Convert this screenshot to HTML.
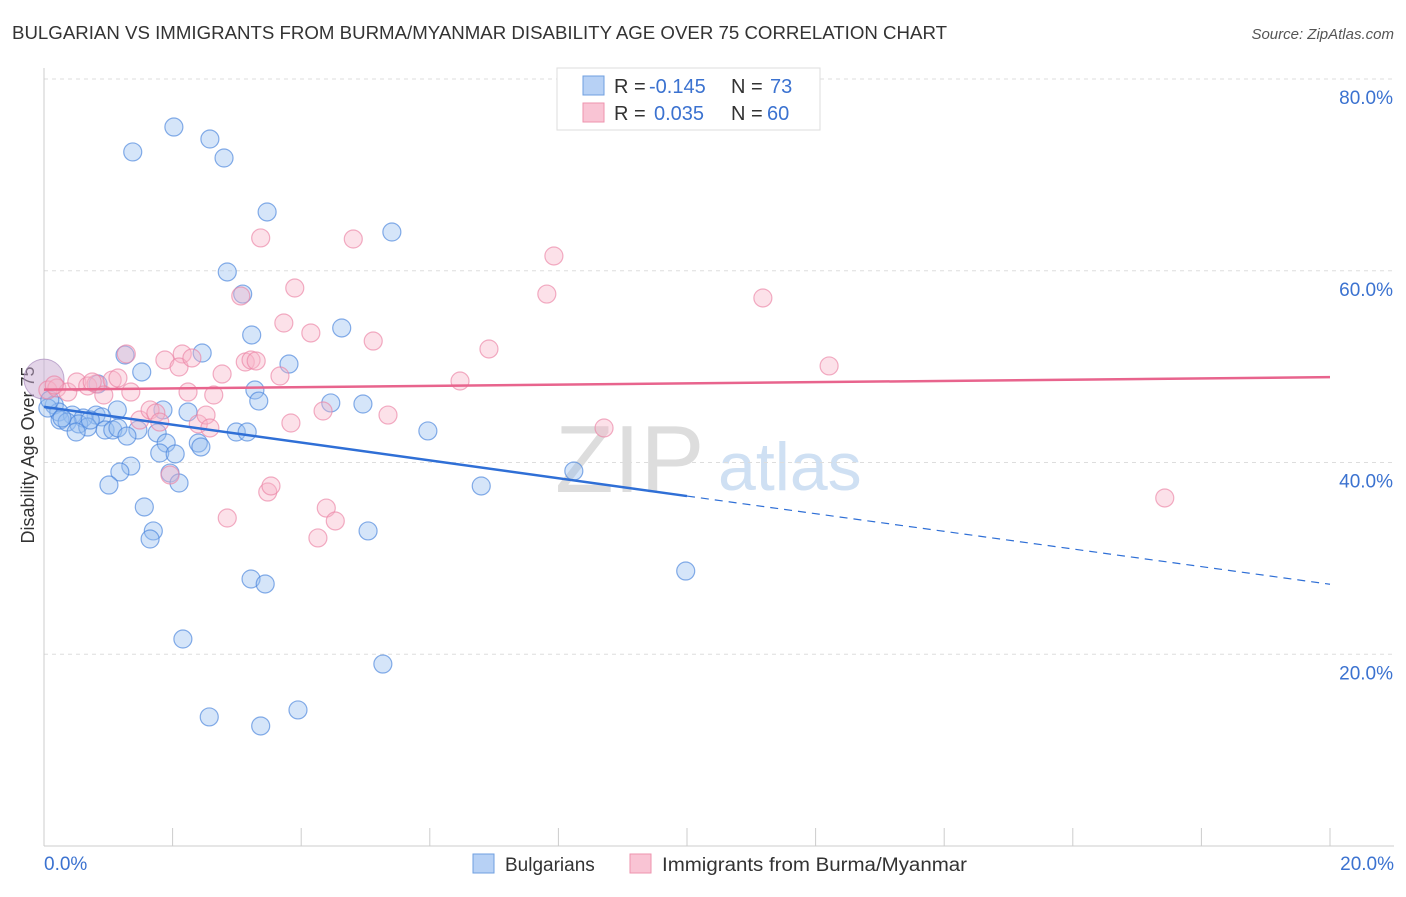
<!DOCTYPE html>
<html><head><meta charset="utf-8"><style>
body{margin:0;background:#fff;font-family:"Liberation Sans",sans-serif}
svg text{font-family:"Liberation Sans",sans-serif}
</style></head><body>
<svg id="chart" width="1406" height="892" xmlns="http://www.w3.org/2000/svg">
<text x="12" y="39" font-size="18" fill="#333" textLength="935" lengthAdjust="spacingAndGlyphs">BULGARIAN VS IMMIGRANTS FROM BURMA/MYANMAR DISABILITY AGE OVER 75 CORRELATION CHART</text>
<text x="1394" y="39" font-size="15" fill="#555" font-style="italic" text-anchor="end">Source: ZipAtlas.com</text>
<text x="34" y="455" font-size="18" fill="#333" text-anchor="middle" transform="rotate(-90 34 455)">Disability Age Over 75</text>
<text x="555" y="492" font-size="96" fill="#ddd" font-family="Liberation Serif">ZIP</text>
<text x="718" y="490" font-size="68" fill="#cfe0f3">atlas</text>
<g id="grid"></g><g id="ticks"></g><g id="pts"></g><g id="lines"></g>
<g>
<rect x="557" y="68" width="263" height="62" fill="#fff" stroke="#ddd"/>
<rect x="583" y="76" width="21" height="19" fill="#b7d1f5" stroke="#6f9fe0"/>
<rect x="583" y="103" width="21" height="19" fill="#f9c4d4" stroke="#ee93ae"/>
<text x="614" y="93" font-size="20" fill="#333">R =</text>
<text x="649" y="93" font-size="20" fill="#3b72d0">-0.145</text>
<text x="731" y="93" font-size="20" fill="#333">N =</text>
<text x="770" y="93" font-size="20" fill="#3b72d0">73</text>
<text x="614" y="120" font-size="20" fill="#333">R =</text>
<text x="654" y="120" font-size="20" fill="#3b72d0">0.035</text>
<text x="731" y="120" font-size="20" fill="#333">N =</text>
<text x="767" y="120" font-size="20" fill="#3b72d0">60</text>
</g>
<g>
<rect x="473" y="854" width="21" height="19" fill="#b7d1f5" stroke="#6f9fe0"/>
<text x="505" y="871" font-size="19" fill="#333">Bulgarians</text>
<rect x="630" y="854" width="21" height="19" fill="#f9c4d4" stroke="#ee93ae"/>
<text x="662" y="871" font-size="19" fill="#333" textLength="305" lengthAdjust="spacingAndGlyphs">Immigrants from Burma/Myanmar</text>
</g>
<text x="44" y="870" font-size="19" fill="#3b72d0">0.0%</text>
<text x="1394" y="870" font-size="19" fill="#3b72d0" text-anchor="end">20.0%</text>
</svg>
<script>
const yTicks=[20,40,60,80];
const yTickLabels=["20.0%","40.0%","60.0%","80.0%"];
const bluePx=[[174,127],[210,139],[133,152],[224,158],[267,212],[392,232],[227,272],[243,294],[342,328],[252,335],[202,353],[125,355],[289,364],[142,372],[98,384],[255,390],[259,401],[331,403],[363,404],[54,405],[59,412],[117,410],[163,410],[188,412],[72,415],[96,415],[102,417],[83,418],[60,420],[67,422],[79,424],[88,427],[76,432],[105,430],[113,430],[118,428],[138,430],[127,436],[157,433],[236,432],[247,432],[428,431],[166,443],[198,443],[201,447],[160,453],[175,454],[131,466],[120,472],[170,473],[574,471],[179,483],[109,485],[481,486],[144,507],[153,531],[150,539],[368,531],[686,571],[251,579],[265,584],[183,639],[383,664],[298,710],[209,717],[261,726],[48,408],[50,400],[62,418],[90,420]];
const pinkPx=[[48,390],[57,388],[68,392],[77,382],[88,386],[96,384],[112,380],[104,395],[118,378],[126,354],[131,392],[140,420],[150,410],[156,413],[160,422],[165,360],[170,475],[182,354],[179,367],[188,392],[192,358],[198,424],[206,415],[210,428],[214,395],[222,374],[227,518],[241,296],[245,362],[251,360],[256,361],[261,238],[268,492],[271,486],[280,376],[284,323],[291,423],[295,288],[311,333],[318,538],[323,411],[326,508],[335,521],[353,239],[373,341],[388,415],[460,381],[489,349],[547,294],[554,256],[604,428],[763,298],[829,366],[1165,498],[92,382],[54,385]];
const blueX=bluePx.map(p=>+((p[0]-44)/64.3).toFixed(2));
const blueY=bluePx.map(p=>+((846-p[1])/9.5875).toFixed(2));
const pinkX=pinkPx.map(p=>+((p[0]-44)/64.3).toFixed(2));
const pinkY=pinkPx.map(p=>+((846-p[1])/9.5875).toFixed(2));
const blueTrend=[[0,45.8],[10,36.5],[20,27.3]];
const pinkTrend=[[0,47.6],[20,48.9]];
const X=v=>44+v*64.3, Y=v=>846-v*9.5875;
const NS="http://www.w3.org/2000/svg";
function mk(tag,attrs,parent){const e=document.createElementNS(NS,tag);for(const k in attrs)e.setAttribute(k,attrs[k]);document.getElementById(parent).appendChild(e);return e;}
yTicks.forEach((t,i)=>{
 const l=mk('line',{x1:44,x2:1394,y1:Y(t),y2:Y(t),stroke:'#ddd','stroke-dasharray':'4,4'},'grid');
 
 
 const tx=mk('text',{x:1393,y:Y(t)+25,'font-size':19,fill:'#3b72d0','text-anchor':'end'},'grid');
 tx.textContent=yTickLabels[i];
 
 
});
mk('line',{x1:44,x2:44,y1:68,y2:846,stroke:'#ccc'},'ticks');
mk('line',{x1:44,x2:1394,y1:846,y2:846,stroke:'#ccc'},'ticks');
for(let i=0;i<=10;i++){const t=mk('line',{x1:X(i*2),x2:X(i*2),y1:828,y2:846,stroke:'#ccc'},'ticks');
 
 }
const big1=mk('circle',{cx:X(0),cy:Y(48.7),r:20,fill:'rgba(200,170,210,0.5)',stroke:'rgba(170,140,190,0.7)'},'pts');


blueX.forEach((x,i)=>{const c=mk('circle',{cx:X(x),cy:Y(blueY[i]),r:9,fill:'rgba(150,190,240,0.4)',stroke:'rgba(70,130,220,0.65)','stroke-width':1.2},'pts');
 
 });
pinkX.forEach((x,i)=>{const c=mk('circle',{cx:X(x),cy:Y(pinkY[i]),r:9,fill:'rgba(248,180,200,0.4)',stroke:'rgba(235,130,165,0.65)','stroke-width':1.2},'pts');
 
 });
const bl=mk('line',{x1:X(blueTrend[0][0]),y1:Y(blueTrend[0][1]),x2:X(blueTrend[1][0]),y2:Y(blueTrend[1][1]),stroke:'#2f6fd6','stroke-width':2.5},'lines');


const bd=mk('line',{x1:X(blueTrend[1][0]),y1:Y(blueTrend[1][1]),x2:X(blueTrend[2][0]),y2:Y(blueTrend[2][1]),stroke:'#2f6fd6','stroke-width':1.2,'stroke-dasharray':'8,6'},'lines');


const pl=mk('line',{x1:X(pinkTrend[0][0]),y1:Y(pinkTrend[0][1]),x2:X(pinkTrend[1][0]),y2:Y(pinkTrend[1][1]),stroke:'#e8648d','stroke-width':2.5},'lines');


</script>
</body></html>
